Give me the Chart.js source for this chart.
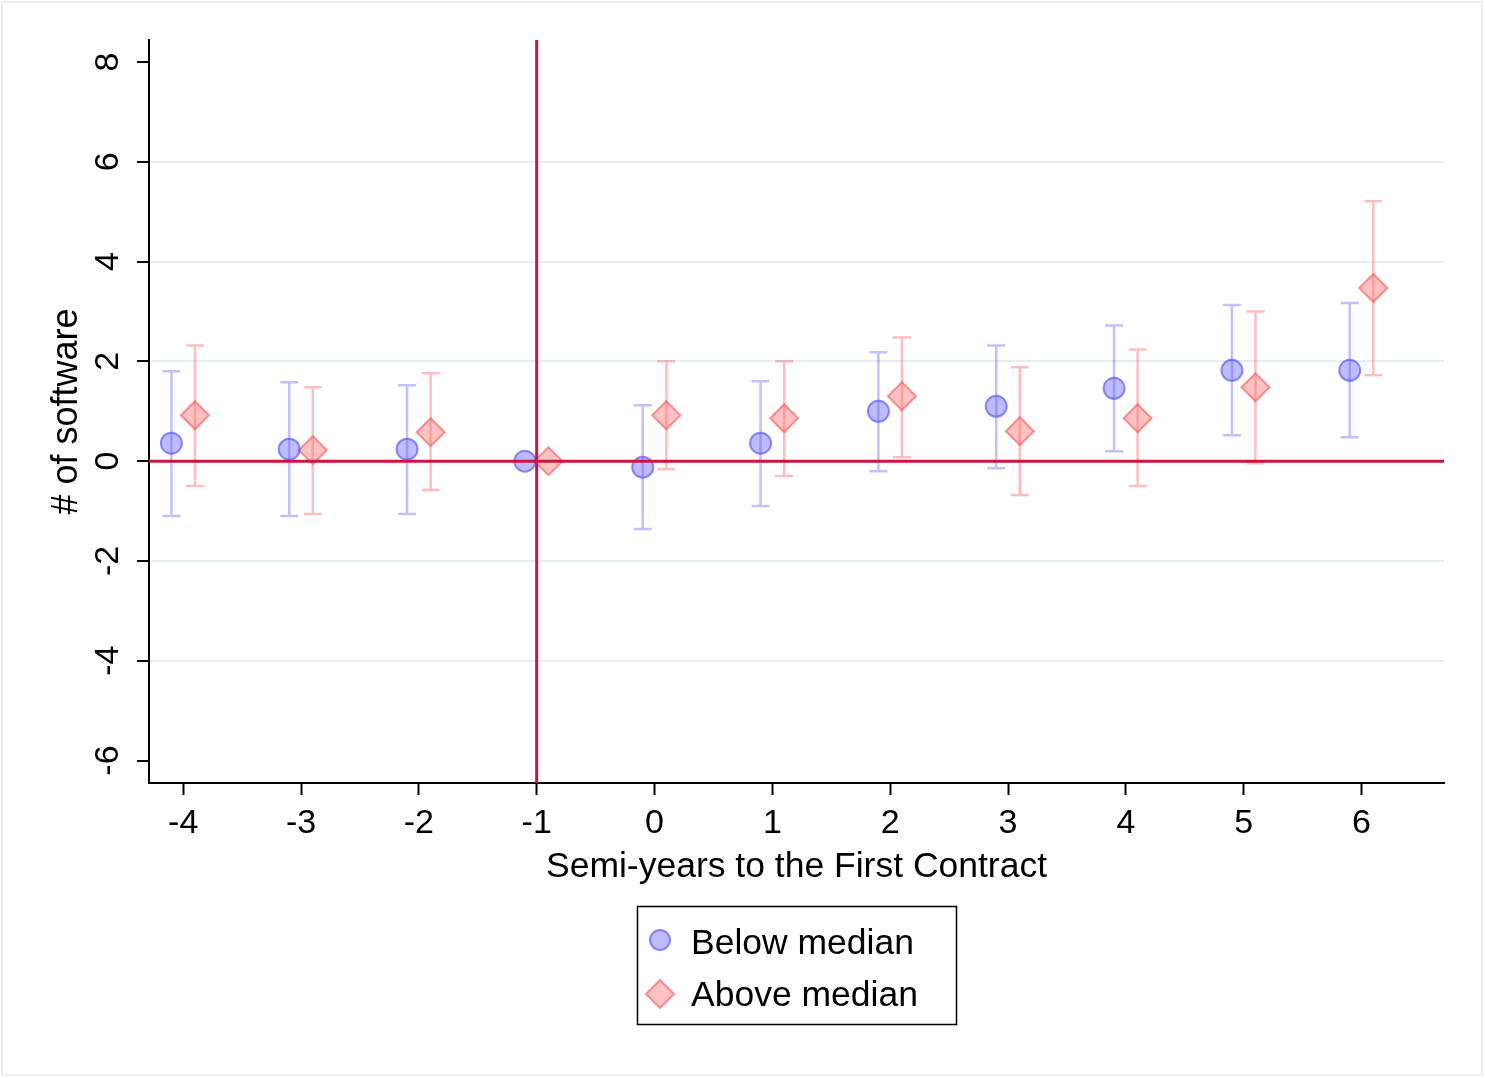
<!DOCTYPE html>
<html>
<head>
<meta charset="utf-8">
<title># of software by semi-year</title>
<script src="https://cdn.jsdelivr.net/npm/chart.js"></script>
<style>
  html, body { margin: 0; padding: 0; background: #fff; }
  #wrap { width: 1485px; height: 1078px; }
</style>
</head>
<body>
<div id="wrap"><canvas id="chart" width="1485" height="1078"></canvas></div>
<script>
// semi-years to the first contract
const periods = [-4, -3, -2, -1, 0, 1, 2, 3, 4, 5, 6];
const yTicks = [-6, -4, -2, 0, 2, 4, 6, 8];

// below median: point estimate and 95% CI
const belowEst = [0.36, 0.24, 0.24, 0, -0.12, 0.36, 1.00, 1.10, 1.46, 1.82, 1.82];
const belowLo  = [-1.10, -1.10, -1.06, 0, -1.36, -0.90, -0.20, -0.14, 0.20, 0.52, 0.48];
const belowHi  = [1.80, 1.58, 1.52, 0, 1.12, 1.60, 2.18, 2.32, 2.72, 3.13, 3.17];

// above median
const aboveEst = [0.92, 0.22, 0.58, 0, 0.92, 0.86, 1.30, 0.60, 0.86, 1.48, 3.47];
const aboveLo  = [-0.50, -1.06, -0.58, 0, -0.16, -0.30, 0.08, -0.68, -0.50, -0.04, 1.72];
const aboveHi  = [2.32, 1.48, 1.76, 0, 2.00, 2.00, 2.48, 1.88, 2.24, 3.00, 5.21];

const FONT = '"Liberation Sans", Arial, Helvetica, sans-serif';
const RED_LINE = '#c8163c';

function points(est, lo, hi, shift) {
  return periods.map((p, i) => ({ x: p + shift, y: est[i], lo: lo[i], hi: hi[i] }));
}

// error bars under the markers
const errorBars = {
  id: 'errorBars',
  beforeDatasetsDraw(chart) {
    const ctx = chart.ctx;
    const xs = chart.scales.x, ys = chart.scales.y;
    chart.data.datasets.forEach(ds => {
      ctx.save();
      ctx.strokeStyle = ds.barColor;
      ctx.lineWidth = 2.5;
      ds.data.forEach(d => {
        if (d.lo === d.hi) return;
        const px = xs.getPixelForValue(d.x);
        const y1 = ys.getPixelForValue(d.lo), y2 = ys.getPixelForValue(d.hi);
        ctx.beginPath();
        ctx.moveTo(px, y1); ctx.lineTo(px, y2);
        ctx.moveTo(px - 9, y1); ctx.lineTo(px + 9, y1);
        ctx.moveTo(px - 9, y2); ctx.lineTo(px + 9, y2);
        ctx.stroke();
      });
      ctx.restore();
    });
  },
  afterDatasetsDraw(chart) {
    // reference lines at y = 0 and x = -1
    const ctx = chart.ctx, a = chart.chartArea;
    const xs = chart.scales.x, ys = chart.scales.y;
    ctx.save();
    ctx.strokeStyle = RED_LINE;
    ctx.lineWidth = 3;
    ctx.beginPath();
    const y0 = ys.getPixelForValue(0);
    ctx.moveTo(a.left, y0); ctx.lineTo(a.right, y0);
    const xm = xs.getPixelForValue(-1);
    ctx.moveTo(xm, a.top); ctx.lineTo(xm, a.bottom);
    ctx.stroke();
    ctx.restore();
  },
  afterDraw(chart) {
    const ctx = chart.ctx;
    ctx.save();
    // outer frame
    ctx.strokeStyle = '#eeeeee';
    ctx.lineWidth = 2;
    ctx.strokeRect(2, 2, 1480, 1073);
    // legend box
    ctx.strokeStyle = '#000';
    ctx.lineWidth = 1.5;
    ctx.strokeRect(637.5, 906.5, 319, 118);
    ctx.font = '35.5px ' + FONT;
    ctx.textBaseline = 'middle';
    chart.data.datasets.forEach((ds, i) => {
      const cy = 942 + i * 52;
      ctx.fillStyle = ds.backgroundColor;
      ctx.strokeStyle = ds.borderColor;
      ctx.lineWidth = 2;
      ctx.beginPath();
      if (ds.pointStyle === 'circle') {
        ctx.arc(660, cy - 2, 10, 0, Math.PI * 2);
      } else {
        ctx.moveTo(660, cy - 14); ctx.lineTo(674, cy); ctx.lineTo(660, cy + 14); ctx.lineTo(646, cy);
        ctx.closePath();
      }
      ctx.fill(); ctx.stroke();
      ctx.fillStyle = '#000';
      ctx.fillText(ds.label, 691, cy + 2);
    });
    ctx.restore();
  }
};

new Chart(document.getElementById('chart'), {
  type: 'scatter',
  data: {
    datasets: [
      {
        label: 'Below median',
        data: points(belowEst, belowLo, belowHi, -0.1),
        pointStyle: 'circle',
        pointRadius: 10.5,
        pointBorderWidth: 2,
        backgroundColor: 'rgba(95, 95, 255, 0.42)',
        borderColor: 'rgba(70, 70, 255, 0.6)',
        barColor: 'rgba(100, 100, 255, 0.4)'
      },
      {
        label: 'Above median',
        data: points(aboveEst, aboveLo, aboveHi, 0.1),
        pointStyle: 'rectRot',
        pointRadius: 14,
        pointBorderWidth: 2,
        backgroundColor: 'rgba(255, 110, 110, 0.42)',
        borderColor: 'rgba(255, 80, 80, 0.6)',
        barColor: 'rgba(255, 100, 100, 0.42)'
      }
    ]
  },
  options: {
    responsive: false,
    animation: false,
    layout: { padding: { top: 40, right: 41, bottom: 189, left: 0 } },
    plugins: {
      legend: { display: false },
      tooltip: { enabled: false }
    },
    scales: {
      x: {
        type: 'linear',
        min: -4.29,
        max: 6.70,
        afterBuildTicks: s => { s.ticks = periods.map(v => ({ value: v })); },
        afterFit: s => { s.height = 106; },
        border: { color: '#000', width: 2 },
        grid: { drawOnChartArea: false, tickLength: 12, tickColor: '#000', tickWidth: 2 },
        ticks: { color: '#000', font: { family: FONT, size: 34 }, padding: 8, maxRotation: 0 },
        title: { display: true, text: 'Semi-years to the First Contract', color: '#000',
                 font: { family: FONT, size: 35.5 }, padding: { top: 0, bottom: 0 } }
      },
      y: {
        min: -6.45,
        max: 8.44,
        afterBuildTicks: s => { s.ticks = yTicks.map(v => ({ value: v })); },
        afterFit: s => { s.width = 149; },
        border: { color: '#000', width: 2 },
        grid: {
          color: c => (c.tick && [6, 4, 2, -2, -4].includes(c.tick.value)) ? '#e4eef0' : 'rgba(0,0,0,0)',
          lineWidth: 2,
          tickLength: 12, tickColor: '#000', tickWidth: 2
        },
        ticks: { color: '#000', font: { family: FONT, size: 34 }, padding: 13, crossAlign: 'center',
                 minRotation: 90, maxRotation: 90 },
        title: { display: true, text: '# of software', color: '#000',
                 font: { family: FONT, size: 36 }, padding: { top: 45, bottom: 0 } }
      }
    }
  },
  plugins: [errorBars]
});
</script>
</body>
</html>
